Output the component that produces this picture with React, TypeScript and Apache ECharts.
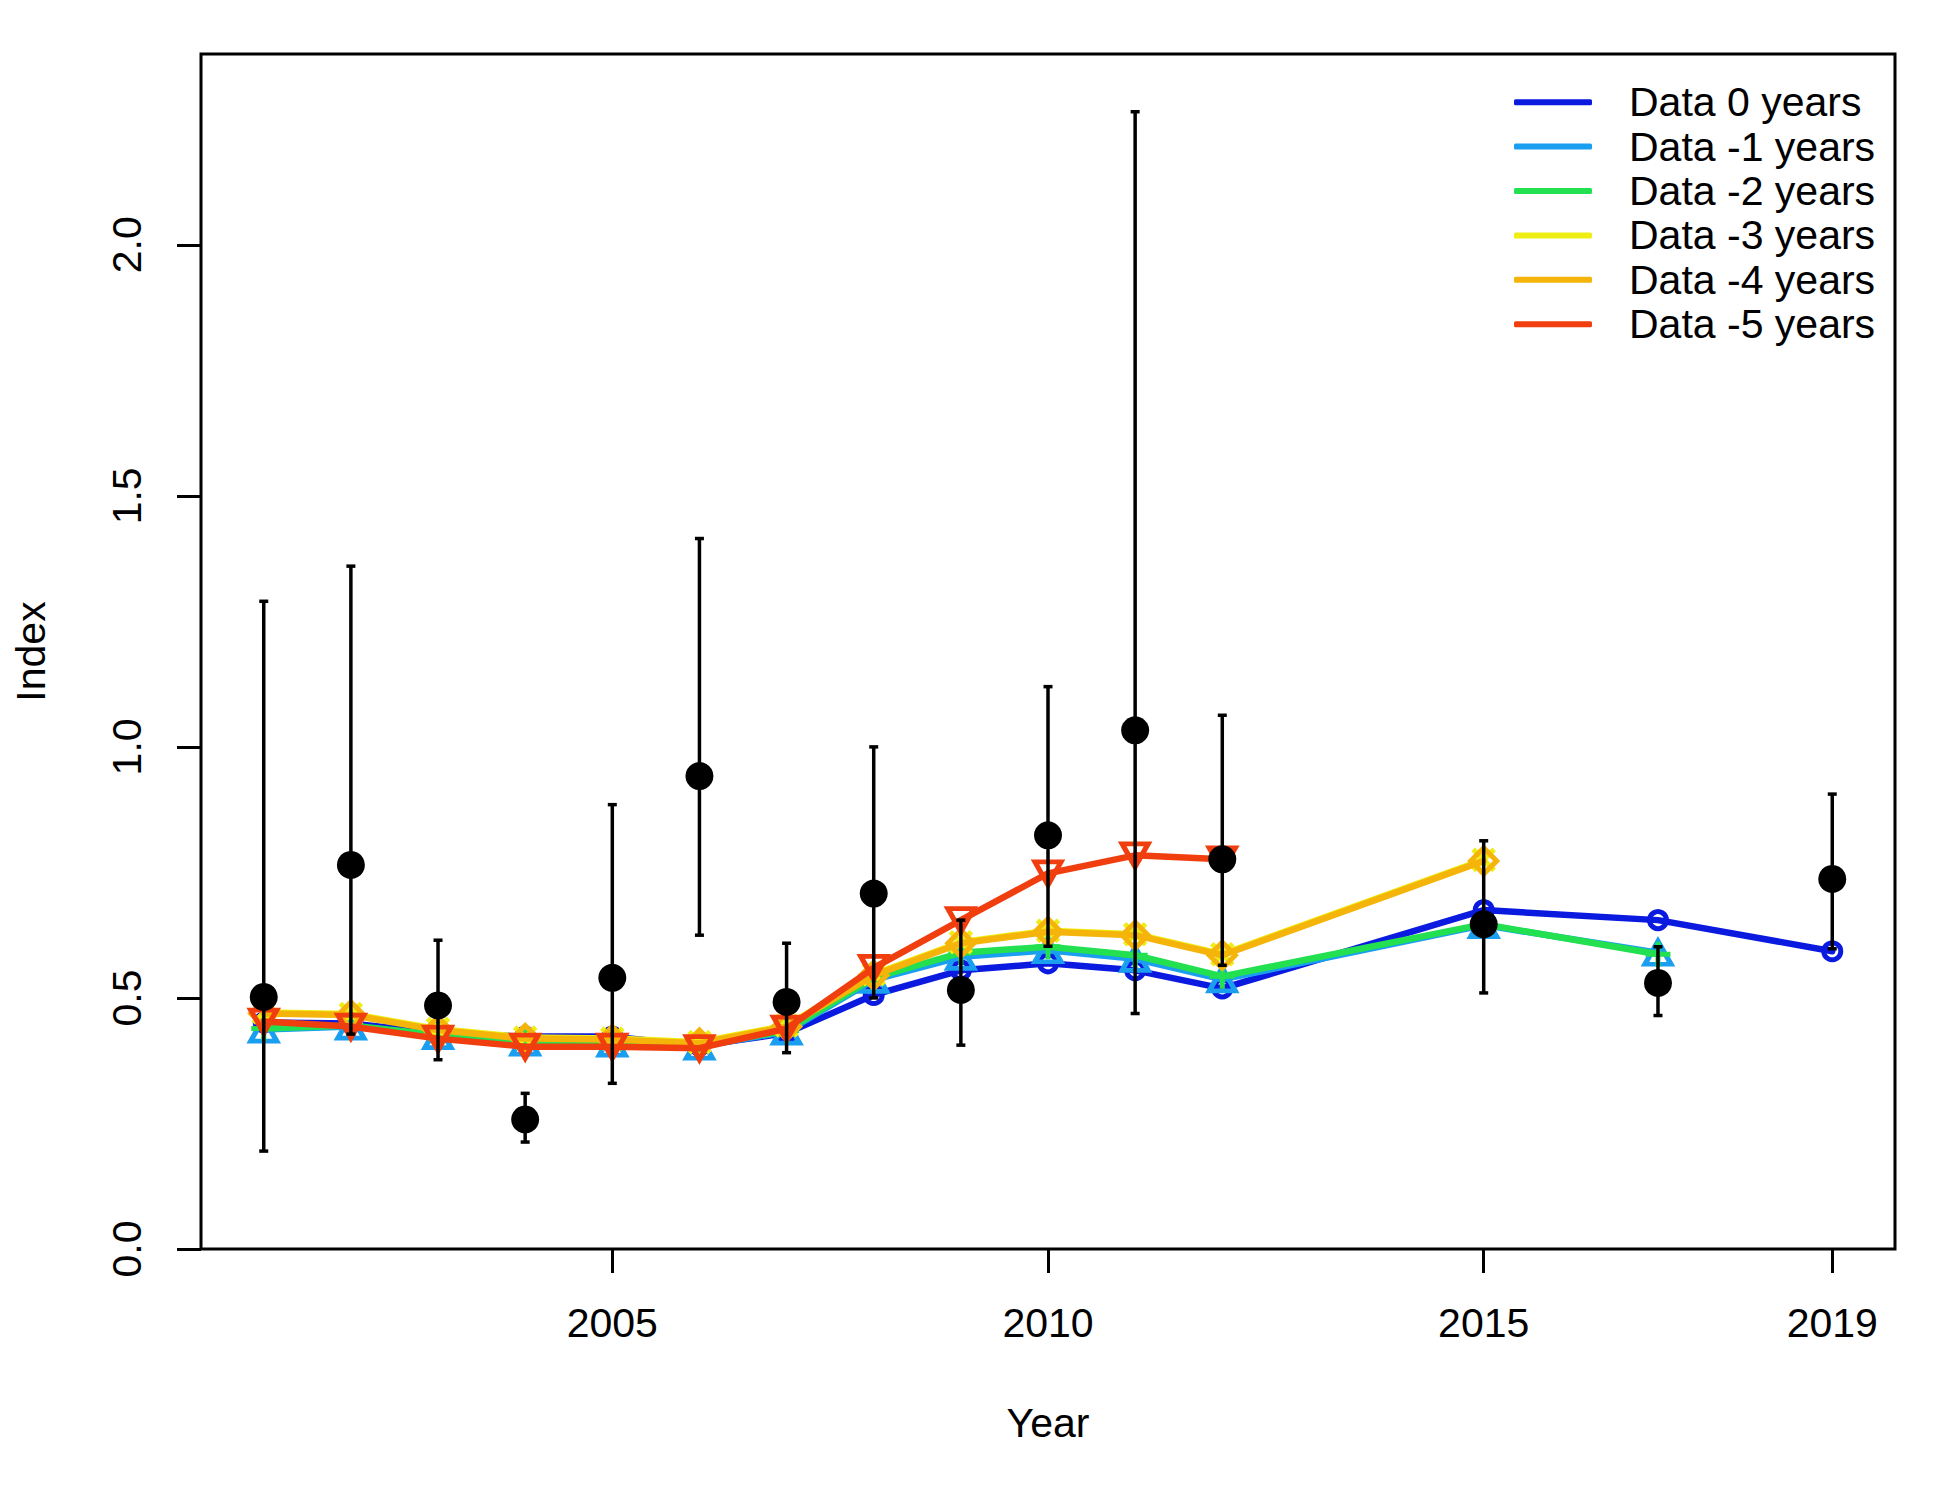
import React, { useEffect, useRef } from "react";
import * as echarts from "echarts";

// ---- data ----
const obsYears = [2001, 2002, 2003, 2004, 2005, 2006, 2007, 2008, 2009, 2010, 2011, 2012, 2015, 2017, 2019];
const obsIndex = [0.502, 0.765, 0.485, 0.258, 0.54, 0.942, 0.492, 0.708, 0.516, 0.824, 1.033, 0.776, 0.647, 0.53, 0.737];
const obsLower = [0.195, 0.428, 0.377, 0.213, 0.33, 0.625, 0.391, 0.5, 0.406, 0.603, 0.469, 0.565, 0.51, 0.465, 0.598];
const obsUpper = [1.29, 1.36, 0.615, 0.31, 0.885, 1.415, 0.609, 1.0, 0.655, 1.12, 2.265, 1.063, 0.813, 0.602, 0.906];

const yearsData0 = [2001, 2002, 2003, 2004, 2005, 2006, 2007, 2008, 2009, 2010, 2011, 2012, 2015, 2017, 2019];
const data0 = [0.451, 0.449, 0.43, 0.423, 0.423, 0.405, 0.43, 0.506, 0.555, 0.569, 0.555, 0.519, 0.675, 0.655, 0.593];

const yearsData1 = [2001, 2002, 2003, 2004, 2005, 2006, 2007, 2008, 2009, 2010, 2011, 2012, 2015, 2017];
const data1 = [0.437, 0.443, 0.424, 0.411, 0.409, 0.403, 0.433, 0.536, 0.582, 0.595, 0.578, 0.537, 0.645, 0.59];

const yearsData2 = [2001, 2002, 2003, 2004, 2005, 2006, 2007, 2008, 2009, 2010, 2011, 2012, 2015, 2017];
const data2 = [0.439, 0.445, 0.426, 0.413, 0.411, 0.405, 0.435, 0.54, 0.59, 0.602, 0.585, 0.543, 0.647, 0.587];

const yearsData3 = [2001, 2002, 2003, 2004, 2005, 2006, 2007, 2008, 2009, 2010, 2011, 2012, 2015];
const data3 = [0.471, 0.468, 0.438, 0.421, 0.419, 0.412, 0.445, 0.547, 0.611, 0.634, 0.627, 0.587, 0.775];

const yearsData4 = [2001, 2002, 2003, 2004, 2005, 2006, 2007, 2008, 2009, 2010, 2011, 2012, 2015];
const data4 = [0.469, 0.466, 0.436, 0.419, 0.417, 0.41, 0.443, 0.545, 0.609, 0.632, 0.625, 0.585, 0.773];

const yearsData5 = [2001, 2002, 2003, 2004, 2005, 2006, 2007, 2008, 2009, 2010, 2011, 2012];
const data5 = [0.453, 0.443, 0.419, 0.403, 0.403, 0.4, 0.439, 0.56, 0.655, 0.748, 0.784, 0.776];

const seriesNames = ["Data 0 years", "Data -1 years", "Data -2 years", "Data -3 years", "Data -4 years", "Data -5 years"];
const seriesColors = ["#0A1ADF", "#1A9EF0", "#22E050", "#EEEE14", "#F5B40A", "#F03E0E"];

const xTicks = [2005, 2010, 2015, 2019];
const yTicks = [0, 0.5, 1, 1.5, 2];

const FONT = "'Liberation Sans', Arial, sans-serif";

const plusPath = "path://M12,0 L12,24 M0,12 L24,12";
const crossPath = "path://M0,0 L20,20 M0,20 L20,0";

export default function App() {
  const ref = useRef<HTMLDivElement>(null);

  useEffect(() => {
    if (!ref.current) return;
    const chart = echarts.init(ref.current, null, { renderer: "svg" });

    const allYears = [yearsData0, yearsData1, yearsData2, yearsData3, yearsData4, yearsData5];
    const allVals = [data0, data1, data2, data3, data4, data5];
    const symbols: any[] = ["circle", "triangle", plusPath, crossPath, "diamond", "triangle"];
    const symbolSizes: any[] = [17, [26, 23], 25, 21, 26, [26, 23]];
    const symbolRotates = [0, 0, 0, 0, 0, 180];

    const lineSeries = allVals.map((vals, k) => ({
      type: "line",
      name: seriesNames[k],
      data: allYears[k].map((yr, i) => [yr, vals[i]]),
      symbol: symbols[k],
      symbolSize: symbolSizes[k],
      symbolRotate: symbolRotates[k],
      showSymbol: true,
      lineStyle: { color: seriesColors[k], width: 6.5, cap: "round", join: "round" },
      itemStyle: { color: "rgba(255,255,255,0)", borderColor: seriesColors[k], borderWidth: 5 },
      emphasis: { disabled: true },
      z: 2 + k,
    }));

    const option: any = {
      animation: false,
      backgroundColor: "#ffffff",
      grid: {
        left: 201,
        top: 54,
        width: 1694,
        height: 1195,
        show: true,
        borderColor: "#000",
        borderWidth: 3,
        backgroundColor: "#fff",
        containLabel: false,
      },
      legend: {
        orient: "vertical",
        left: 1514,
        top: 80,
        padding: 0,
        itemWidth: 78,
        itemHeight: 6,
        itemGap: 0,
        selectedMode: false,
        textStyle: {
          fontSize: 41,
          fontFamily: FONT,
          color: "#000",
          lineHeight: 44.4,
          padding: [0, 0, 0, 32],
        },
        data: seriesNames.map((n, k) => ({
          name: n,
          icon: "roundRect",
          itemStyle: { color: seriesColors[k], borderWidth: 0 },
        })),
      },
      xAxis: {
        type: "value",
        min: 2000.28,
        max: 2019.72,
        name: "Year",
        nameLocation: "middle",
        nameGap: 153,
        nameTextStyle: { fontSize: 41, fontFamily: FONT, color: "#000" },
        axisLine: { show: false },
        splitLine: { show: false },
        axisTick: {
          show: true,
          length: 24,
          inside: false,
          customValues: xTicks,
          lineStyle: { color: "#000", width: 3 },
        },
        axisLabel: {
          show: true,
          margin: 53,
          customValues: xTicks,
          fontSize: 41,
          fontFamily: FONT,
          color: "#000",
          formatter: (v: number) => String(v),
        },
      },
      yAxis: {
        type: "value",
        min: 0,
        max: 2.38,
        name: "Index",
        nameLocation: "middle",
        nameRotate: 90,
        nameGap: 150,
        nameTextStyle: { fontSize: 41, fontFamily: FONT, color: "#000" },
        axisLine: { show: false },
        splitLine: { show: false },
        axisTick: {
          show: true,
          length: 24,
          inside: false,
          customValues: yTicks,
          lineStyle: { color: "#000", width: 3 },
        },
        axisLabel: {
          show: true,
          rotate: 90,
          margin: 54,
          customValues: yTicks,
          fontSize: 41,
          fontFamily: FONT,
          color: "#000",
          formatter: (v: number) => v.toFixed(1),
        },
      },
      series: [
        ...lineSeries,
        {
          type: "custom",
          name: "ci",
          data: obsYears.map((yr, i) => [yr, obsLower[i], obsUpper[i]]),
          encode: { x: 0, y: [1, 2] },
          z: 20,
          silent: true,
          renderItem: (params: any, api: any) => {
            const x = api.value(0);
            const lo = api.coord([x, api.value(1)]);
            const hi = api.coord([x, api.value(2)]);
            const cap = 4.5;
            const st = { stroke: "#000", lineWidth: 3.5 };
            return {
              type: "group",
              children: [
                { type: "line", shape: { x1: lo[0], y1: lo[1], x2: hi[0], y2: hi[1] }, style: st },
                { type: "line", shape: { x1: lo[0] - cap, y1: lo[1], x2: lo[0] + cap, y2: lo[1] }, style: st },
                { type: "line", shape: { x1: hi[0] - cap, y1: hi[1], x2: hi[0] + cap, y2: hi[1] }, style: st },
              ],
            };
          },
        },
        {
          type: "scatter",
          name: "Observed",
          data: obsYears.map((yr, i) => [yr, obsIndex[i]]),
          symbol: "circle",
          symbolSize: 28,
          itemStyle: { color: "#000", opacity: 1 },
          z: 21,
          silent: true,
        },
      ],
    };

    chart.setOption(option);
    return () => chart.dispose();
  }, []);

  return (
    <div
      ref={ref}
      style={{ position: "absolute", left: 0, top: 0, width: 1950, height: 1500, background: "#fff" }}
    />
  );
}
